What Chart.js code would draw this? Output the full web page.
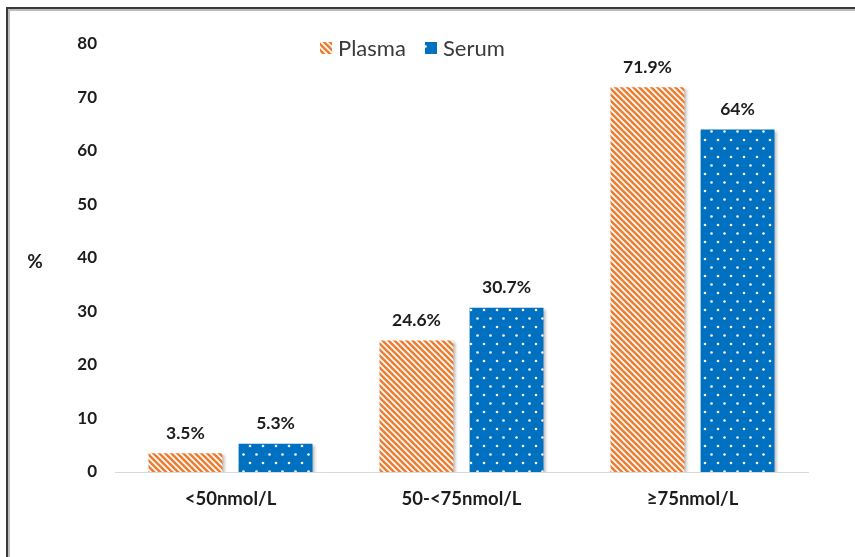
<!DOCTYPE html>
<html>
<head>
<meta charset="utf-8">
<script src="https://cdn.jsdelivr.net/npm/chart.js@4.4.1/dist/chart.umd.min.js"></script>
<style>
  html, body { margin: 0; padding: 0; background: #fff; }
  #wrap { width: 855px; height: 557px; position: relative; }
</style>
</head>
<body>
<div id="wrap"><canvas id="c" width="855" height="557"></canvas></div>
<script>
// Vitamin D status categories and the share (%) of samples in each
const categories = ['<50nmol/L', '50-<75nmol/L', '\u226575nmol/L'];
const plasmaValues = [3.5, 24.6, 71.9];
const serumValues = [5.3, 30.7, 64];
const seriesNames = ['Plasma', 'Serum'];
const yTicks = [0, 10, 20, 30, 40, 50, 60, 70, 80];

const ORANGE = '#ED7D31';
const BLUE = '#0070C0';
const TEXT = '#1c1c1c';
const FONT = 'Lato, "Open Sans", sans-serif';

// Diagonal stripe fill (orange on white)
function stripePattern(ctx) {
  const t = document.createElement('canvas');
  t.width = 12; t.height = 12;
  const g = t.getContext('2d');
  g.fillStyle = '#fff';
  g.fillRect(0, 0, 12, 12);
  g.strokeStyle = ORANGE;
  g.lineWidth = 2.6;
  for (let c = -18; c <= 18; c += 6) {
    g.beginPath();
    g.moveTo(-2, -2 + c);
    g.lineTo(14, 14 + c);
    g.stroke();
  }
  return ctx.createPattern(t, 'repeat');
}

// Staggered white dots on blue
function dotPattern(ctx) {
  const t = document.createElement('canvas');
  t.width = 13; t.height = 17;
  const g = t.getContext('2d');
  g.fillStyle = BLUE;
  g.fillRect(0, 0, 13, 17);
  g.fillStyle = '#fff';
  [[3, 4], [9.5, 12.5]].forEach(([x, y]) => {
    g.beginPath();
    g.arc(x, y, 1.3, 0, Math.PI * 2);
    g.fill();
  });
  return ctx.createPattern(t, 'repeat');
}

const canvas = document.getElementById('c');
const ctx = canvas.getContext('2d');
const plasmaFill = stripePattern(ctx);
const serumFill = dotPattern(ctx);

// Soft drop shadow under the bars
const barShadow = {
  id: 'barShadow',
  beforeDatasetsDraw(chart) {
    const c = chart.ctx;
    c.save();
    c.shadowColor = 'rgba(0,0,0,0.28)';
    c.shadowBlur = 3;
    c.shadowOffsetX = 2;
    c.shadowOffsetY = 2;
  },
  afterDatasetsDraw(chart) {
    chart.ctx.restore();
  }
};

// Value labels, legend, axis title and frame
const extras = {
  id: 'extras',
  afterDraw(chart) {
    const c = chart.ctx;
    c.save();
    // value labels above bars
    c.font = 'bold 17.5px ' + FONT;
    c.fillStyle = TEXT;
    c.textAlign = 'center';
    c.textBaseline = 'middle';
    chart.data.datasets.forEach((ds, i) => {
      chart.getDatasetMeta(i).data.forEach((bar, j) => {
        c.fillText(ds.data[j] + '%', bar.x, bar.y - 20);
      });
    });

    // legend
    const ly = 48;
    c.font = '22px ' + FONT;
    c.textAlign = 'left';
    c.fillStyle = plasmaFill;
    c.fillRect(320, ly - 6, 12, 12);
    c.fillStyle = serumFill;
    c.fillRect(425, ly - 6, 12, 12);
    c.fillStyle = '#3a3a3a';
    c.fillText(seriesNames[0], 338, ly + 1);
    c.fillText(seriesNames[1], 443, ly + 1);

    // y-axis title
    c.font = 'bold 19px ' + FONT;
    c.fillStyle = TEXT;
    c.textAlign = 'center';
    c.fillText('%', 35, chart.scales.y.getPixelForValue(40) + 4);

    // frame lines (top and left)
    c.fillStyle = '#bdbdbd';
    c.fillRect(6, 9, 849, 2);
    c.fillRect(8, 9, 2, 548);
    c.fillStyle = '#3a3a3a';
    c.fillRect(6, 7, 849, 2);
    c.fillRect(6, 7, 2, 550);
    c.restore();
  }
};

new Chart(canvas, {
  type: 'bar',
  data: {
    labels: categories,
    datasets: [
      { label: seriesNames[0], data: plasmaValues, backgroundColor: plasmaFill, borderWidth: 0 },
      { label: seriesNames[1], data: serumValues, backgroundColor: serumFill, borderWidth: 0 }
    ]
  },
  options: {
    responsive: false,
    animation: false,
    events: [],
    layout: { padding: { top: 44, right: 47, left: 0, bottom: 0 } },
    datasets: { bar: { categoryPercentage: 0.78, barPercentage: 0.82 } },
    plugins: { legend: { display: false }, tooltip: { enabled: false } },
    scales: {
      x: {
        grid: { display: false, drawTicks: false },
        border: { display: true, color: '#d9d9d9', width: 1 },
        ticks: { color: TEXT, font: { family: FONT, size: 18.5, weight: 'bold' }, padding: 16, maxRotation: 0 },
        afterFit(s) { s.height = 85; }
      },
      y: {
        min: 0, max: 80,
        afterBuildTicks(s) { s.ticks = yTicks.map(v => ({ value: v })); },
        grid: { display: false, drawTicks: false },
        border: { display: false },
        ticks: { color: TEXT, font: { family: FONT, size: 17, weight: 'bold' }, padding: 18 },
        afterFit(s) { s.width = 115; }
      }
    }
  },
  plugins: [barShadow, extras]
});
</script>
</body>
</html>
